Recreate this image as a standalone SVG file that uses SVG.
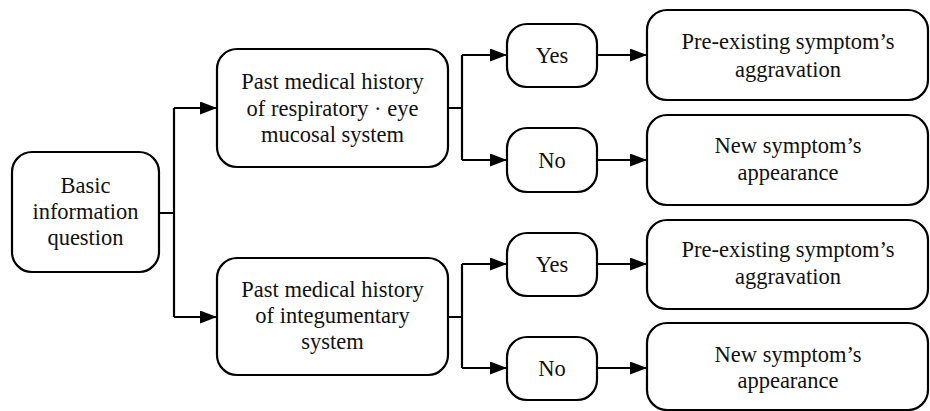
<svg xmlns="http://www.w3.org/2000/svg" width="930" height="411" viewBox="0 0 930 411">
<style>
.box{fill:#fff;stroke:#000;stroke-width:2.2}
.c{fill:none;stroke:#000;stroke-width:2.2}
</style>
<defs>
<marker id="ah" markerUnits="userSpaceOnUse" markerWidth="18" markerHeight="14" refX="17" refY="6.5" orient="auto">
<path d="M0,0 L17,6.5 L0,13 Z" fill="#000"/>
</marker>
</defs>
<rect width="930" height="411" fill="#fff"/>
<g id="connectors">
<path class="c" d="M159,213 H174 M174,108 V317"/>
<path class="c" d="M174,108 H217" marker-end="url(#ah)"/>
<path class="c" d="M174,317 H217" marker-end="url(#ah)"/>
<path class="c" d="M448,108 H462 M462,55 V160 M448,317 H462 M462,264 V368"/>
<path class="c" d="M462,55 H507" marker-end="url(#ah)"/>
<path class="c" d="M462,160 H507" marker-end="url(#ah)"/>
<path class="c" d="M462,264 H507" marker-end="url(#ah)"/>
<path class="c" d="M462,368 H507" marker-end="url(#ah)"/>
<path class="c" d="M597,55 H647" marker-end="url(#ah)"/>
<path class="c" d="M597,160 H647" marker-end="url(#ah)"/>
<path class="c" d="M597,264 H647" marker-end="url(#ah)"/>
<path class="c" d="M597,368 H647" marker-end="url(#ah)"/>
</g>
<g font-family="Liberation Serif, Times New Roman, serif" font-size="22.5" fill="#111" text-anchor="middle">
<g id="basic">
<rect class="box" x="12" y="152" width="147" height="120" rx="20"/>
<text x="85.5" y="193">Basic</text>
<text x="85.5" y="219">information</text>
<text x="85.5" y="245">question</text>
</g>
<g id="past1">
<rect class="box" x="217" y="49" width="231" height="118" rx="20"/>
<text x="332.5" y="89">Past medical history</text>
<text x="332.5" y="116">of respiratory · eye</text>
<text x="332.5" y="142">mucosal system</text>
</g>
<g id="past2">
<rect class="box" x="217" y="258" width="231" height="117" rx="20"/>
<text x="332.5" y="297">Past medical history</text>
<text x="332.5" y="323">of integumentary</text>
<text x="332.5" y="349">system</text>
</g>
<g id="yes1">
<rect class="box" x="507" y="24" width="90" height="63" rx="20"/>
<text x="552" y="63">Yes</text>
</g>
<g id="no1">
<rect class="box" x="507" y="128" width="90" height="64" rx="20"/>
<text x="552" y="168">No</text>
</g>
<g id="yes2">
<rect class="box" x="507" y="233" width="90" height="63" rx="20"/>
<text x="552" y="272">Yes</text>
</g>
<g id="no2">
<rect class="box" x="507" y="337" width="90" height="63" rx="20"/>
<text x="552" y="376">No</text>
</g>
<g id="result1">
<rect class="box" x="647" y="10" width="281" height="90" rx="20"/>
<text x="788" y="49">Pre-existing symptom’s</text>
<text x="788" y="77">aggravation</text>
</g>
<g id="result2">
<rect class="box" x="647" y="115" width="281" height="90" rx="20"/>
<text x="788" y="153">New symptom’s</text>
<text x="788" y="180">appearance</text>
</g>
<g id="result3">
<rect class="box" x="647" y="220" width="281" height="89" rx="20"/>
<text x="788" y="257">Pre-existing symptom’s</text>
<text x="788" y="284">aggravation</text>
</g>
<g id="result4">
<rect class="box" x="647" y="323" width="281" height="87" rx="20"/>
<text x="788" y="362">New symptom’s</text>
<text x="788" y="388">appearance</text>
</g>
</g>
</svg>
